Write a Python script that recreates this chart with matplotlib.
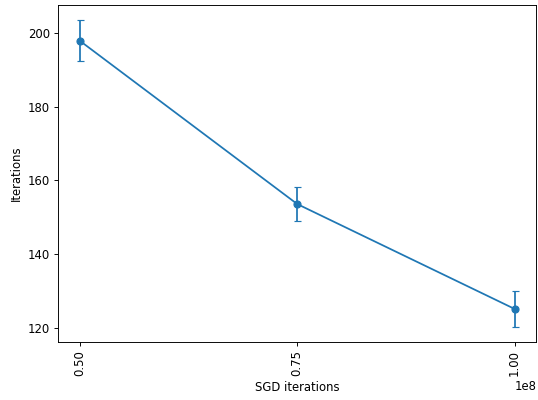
import matplotlib
matplotlib.use("Agg")
import matplotlib.pyplot as plt

sgd_iters = [0.5e8, 0.75e8, 1.0e8]
iterations = [197.8, 153.6, 125.2]
errors = [5.6, 4.5, 4.8]

# drawn at 84 dpi so text and lines come out at the reference's scale
fig, ax = plt.subplots(figsize=(538 / 84, 400 / 84), dpi=84)
ax.errorbar(sgd_iters, iterations, yerr=errors, marker="o", capsize=3)
ax.set_xticks(sgd_iters)
ax.tick_params(axis="x", labelrotation=90)
ax.set_xlabel("SGD iterations")
ax.set_ylabel("Iterations")
fig.subplots_adjust(left=0.108, right=0.997, top=0.988, bottom=0.145)
plt.savefig("out.png", dpi=84)
